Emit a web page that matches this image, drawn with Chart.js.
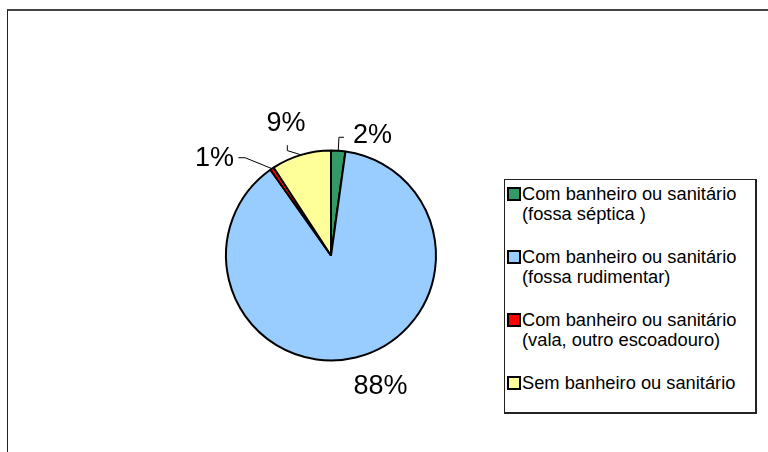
<!DOCTYPE html>
<html>
<head>
<meta charset="utf-8">
<script src="https://cdn.jsdelivr.net/npm/chart.js@4.4.0/dist/chart.umd.min.js"></script>
<style>
    html, body { margin: 0; padding: 0; background: #fff; overflow: hidden; }
    #wrap { position: relative; width: 768px; height: 452px; overflow: hidden;
        font-family: "Liberation Sans", Arial, sans-serif; }
    #frame { position: absolute; left: 7px; top: 9px; width: 900px; height: 600px;
        border-top: 2px solid #444; border-left: 1px solid #222; }
    #chart { position: absolute; left: 0; top: 0; }
    #legend { position: absolute; left: 504px; top: 179px; width: 253px; height: 235px;
        box-sizing: border-box; border: 1px solid #222; border-right-width: 2px; border-bottom-width: 2px;
        padding-top: 3.75px; background: #fff; }
    .item { position: relative; padding-left: 17px; font-size: 18.3px; line-height: 20.5px;
        margin-bottom: 22px; white-space: nowrap; color: #000; }
    .swatch { position: absolute; left: 2px; top: 3.25px; width: 10px; height: 10px; border: 2px solid #000; }
</style>
</head>
<body>
<div id="wrap">
    <div id="frame"></div>
    <canvas id="chart" width="768" height="452"></canvas>
    <div id="legend"></div>
</div>
<script>
const categories = [
    ["Com banheiro ou sanitário", "(fossa séptica )"],
    ["Com banheiro ou sanitário", "(fossa rudimentar)"],
    ["Com banheiro ou sanitário", "(vala, outro escoadouro)"],
    ["Sem banheiro ou sanitário"]
];
const values = [2.2, 88.0, 0.6, 9.2];
const colors = ["#339966", "#99ccff", "#ff0000", "#ffff99"];

// where each percent label sits: degrees clockwise from top, distance in radii,
// and the leader's two points relative to the label centre
const labelPlace = [
    { angle: 18.7, dist: 1.231, leader: [[-28.5, 4.2], [-33.5, 4.2]] },
    { angle: 159, dist: 1.316, leader: null },
    { angle: -49.6, dist: 1.456, leader: [[23.8, 1.3], [30.5, 1.3]] },
    { angle: -18.5, dist: 1.35, leader: [[1.3, 24.2], [1.3, 29.5]] }
];

const legend = document.getElementById("legend");
categories.forEach((lines, i) => {
    const item = document.createElement("div");
    item.className = "item";
    const sw = document.createElement("span");
    sw.className = "swatch";
    sw.style.background = colors[i];
    item.appendChild(sw);
    lines.forEach((t, j) => {
        if (j) item.appendChild(document.createElement("br"));
        item.appendChild(document.createTextNode(t));
    });
    legend.appendChild(item);
});

const sliceLabels = {
    id: "sliceLabels",
    afterDatasetsDraw(chart) {
        const ctx = chart.ctx;
        const total = values.reduce((a, b) => a + b, 0);
        chart.getDatasetMeta(0).data.forEach((arc, i) => {
            const { x, y, outerRadius, startAngle, endAngle } =
                arc.getProps(["x", "y", "outerRadius", "startAngle", "endAngle"], true);
            const mid = (startAngle + endAngle) / 2;
            const p = labelPlace[i];
            const a = (p.angle - 90) * Math.PI / 180;
            const lx = x + Math.cos(a) * outerRadius * p.dist;
            const ly = y + Math.sin(a) * outerRadius * p.dist;
            ctx.save();
            if (p.leader) {
                ctx.beginPath();
                ctx.moveTo(lx + p.leader[0][0], ly + p.leader[0][1]);
                ctx.lineTo(lx + p.leader[1][0], ly + p.leader[1][1]);
                ctx.lineTo(x + Math.cos(mid) * outerRadius, y + Math.sin(mid) * outerRadius);
                ctx.strokeStyle = "#000";
                ctx.lineWidth = 1;
                ctx.stroke();
            }
            ctx.font = '27px "Liberation Sans", Arial, sans-serif';
            ctx.fillStyle = "#000";
            ctx.textAlign = "center";
            ctx.textBaseline = "alphabetic";
            ctx.fillText(Math.round(values[i] / total * 100) + "%", lx, ly + 9.6);
            ctx.restore();
        });
    }
};

new Chart(document.getElementById("chart"), {
    type: "pie",
    data: {
        labels: categories,
        datasets: [{
            data: values,
            backgroundColor: colors,
            borderColor: "#000",
            borderWidth: 2
        }]
    },
    options: {
        responsive: false,
        animation: false,
        events: [],
        layout: { padding: { left: 225, right: 331, top: 149.5, bottom: 90.5 } },
        plugins: {
            legend: { display: false },
            tooltip: { enabled: false }
        }
    },
    plugins: [sliceLabels]
});
</script>
</body>
</html>
